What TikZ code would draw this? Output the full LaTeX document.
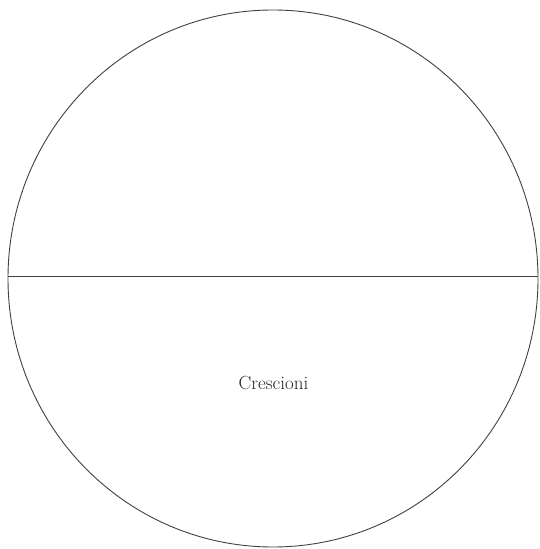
\documentclass[tikz,border=0pt]{standalone}
\begin{document}
\begin{tikzpicture}[x=1pt,y=1pt,
  outline/.style={draw=black!75,line width=0.9pt},
  label/.style={font=\fontsize{19}{22}\selectfont,text=black!85}]
\useasboundingbox (0,0) rectangle (539,549);
\coordinate (c) at (273,270.5);
\draw[outline] (c) ellipse [x radius=265, y radius=268.5];
\coordinate (l) at (8,273);
\coordinate (r) at (538,273);
\draw[outline] (l) -- (r);
\node[label] (t) at (273.5,166) {Crescioni};
\end{tikzpicture}
\end{document}
